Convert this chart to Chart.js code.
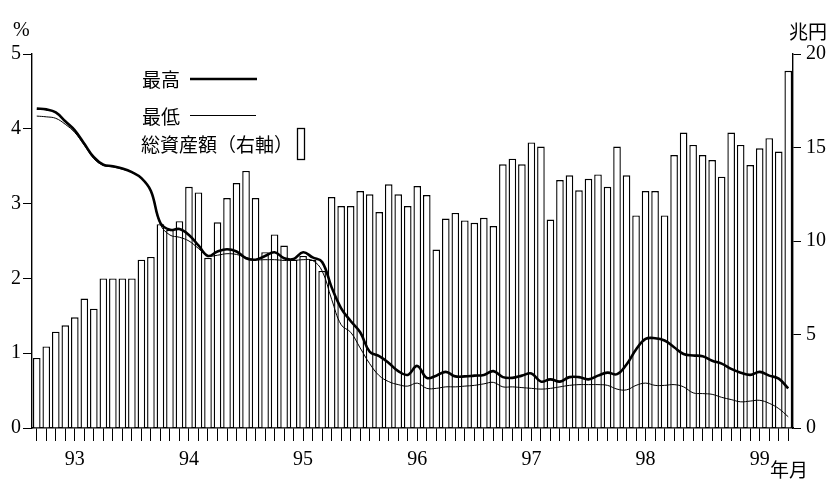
<!DOCTYPE html>
<html>
<head>
<meta charset="utf-8">
<script src="https://cdn.jsdelivr.net/npm/chart.js@4.4.0/dist/chart.umd.min.js"></script>
<style>
  html, body { margin: 0; padding: 0; background: #fff; }
  #wrap { width: 828px; height: 482px; }
</style>
</head>
<body>
<div id="wrap"><canvas id="chart" width="828" height="482"></canvas></div>
<script>
// 月次カテゴリ: 1992年9月 〜 1999年4月 (80か月)
const months = [];
for (let y = 1992, m = 9; months.length < 80; m++) {
    if (m > 12) { m = 1; y++; }
    months.push(y + '/' + m);
}

// 1月にだけ出す年ラベル
const yearLabels = { '1993/1': '93', '1994/1': '94', '1995/1': '95', '1996/1': '96', '1997/1': '97', '1998/1': '98', '1999/1': '99' };

// 総資産額 (兆円, 右軸)
const totalAssets = [
    3.75, 4.36, 5.15, 5.49, 5.92, 6.92, 6.38, 8.0, 8.0, 8.0,
    8.0, 9.0, 9.15, 10.9, 10.6, 11.06, 12.9, 12.6, 9.1, 11.0,
    12.3, 13.1, 13.75, 12.3, 9.4, 10.35, 9.76, 9.0, 9.2, 9.0,
    8.4, 12.35, 11.87, 11.87, 12.67, 12.5, 11.55, 13.03, 12.5, 11.87,
    12.94, 12.46, 9.54, 11.2, 11.5, 11.1, 10.97, 11.24, 10.8, 14.1,
    14.4, 14.1, 15.27, 15.05, 11.15, 13.26, 13.51, 12.71, 13.33, 13.56,
    12.9, 15.05, 13.51, 11.37, 12.67, 12.67, 11.37, 14.6, 15.8, 15.14,
    14.6, 14.33, 13.44, 15.8, 15.14, 14.06, 14.96, 15.5, 14.78, 19.1
];

// 利回り 最高 (%)
const rateHigh = [
    4.27, 4.26, 4.22, 4.10, 3.98, 3.80, 3.62, 3.52, 3.50, 3.47,
    3.42, 3.34, 3.17, 2.74, 2.65, 2.66, 2.58, 2.44, 2.30, 2.36,
    2.39, 2.36, 2.27, 2.25, 2.30, 2.35, 2.27, 2.26, 2.35, 2.28,
    2.22, 1.88, 1.60, 1.43, 1.28, 1.02, 0.96, 0.87, 0.76, 0.71,
    0.83, 0.67, 0.70, 0.75, 0.69, 0.69, 0.70, 0.71, 0.76, 0.68,
    0.67, 0.70, 0.73, 0.62, 0.65, 0.62, 0.68, 0.68, 0.65, 0.70,
    0.74, 0.72, 0.85, 1.05, 1.19, 1.20, 1.17, 1.08, 0.99, 0.97,
    0.96, 0.90, 0.86, 0.79, 0.74, 0.71, 0.75, 0.70, 0.66, 0.53
];

// 利回り 最低 (%)
const rateLow = [
    4.17, 4.16, 4.14, 4.06, 3.95, 3.78, 3.60, 3.51, 3.49, 3.46,
    3.42, 3.34, 3.17, 2.72, 2.58, 2.55, 2.50, 2.40, 2.30, 2.31,
    2.33, 2.32, 2.28, 2.25, 2.25, 2.25, 2.24, 2.24, 2.25, 2.24,
    2.10, 1.72, 1.38, 1.28, 1.07, 0.86, 0.70, 0.62, 0.58, 0.56,
    0.60, 0.53, 0.53, 0.55, 0.55, 0.56, 0.57, 0.59, 0.61, 0.55,
    0.55, 0.54, 0.53, 0.52, 0.53, 0.55, 0.57, 0.58, 0.58, 0.58,
    0.57, 0.52, 0.51, 0.57, 0.60, 0.57, 0.57, 0.58, 0.55, 0.47,
    0.46, 0.45, 0.41, 0.38, 0.35, 0.36, 0.37, 0.33, 0.26, 0.15
];

const NUM_FONT = { family: '"Liberation Serif", serif', size: 20 };
const JP_FONT = '19px "Noto Sans CJK JP", sans-serif';

// 凡例・単位の文字 (図の中に直接描く)
const annotations = {
    id: 'annotations',
    afterDraw(chart) {
        const c = chart.ctx;
        c.save();
        c.fillStyle = '#000';
        c.strokeStyle = '#000';
        c.font = JP_FONT;
        c.textBaseline = 'middle';
        c.textAlign = 'left';

        c.fillText('最高', 142, 80);
        c.lineWidth = 2.6;
        c.beginPath(); c.moveTo(190, 79); c.lineTo(257, 79); c.stroke();

        c.fillText('最低', 142, 117);
        c.lineWidth = 1;
        c.beginPath(); c.moveTo(190, 115.5); c.lineTo(256, 115.5); c.stroke();

        c.fillText('総資産額（右軸）', 141, 145);
        c.fillStyle = '#fff';
        c.fillRect(297.5, 128.5, 7, 31);
        c.lineWidth = 1.3;
        c.strokeRect(297.5, 128.5, 7, 31);

        c.fillStyle = '#000';
        c.font = '20px "Liberation Serif", serif';
        c.fillText('%', 13, 31);
        c.font = JP_FONT;
        c.fillText('兆円', 789, 32);
        c.fillText('年月', 770, 470);
        c.restore();
    }
};

new Chart(document.getElementById('chart'), {
    type: 'bar',
    data: {
        labels: months,
        datasets: [
            {
                type: 'line', label: '最高', data: rateHigh, yAxisID: 'y',
                borderColor: '#000', borderWidth: 2.6, pointRadius: 0, tension: 0.4, order: 0
            },
            {
                type: 'line', label: '最低', data: rateLow, yAxisID: 'y',
                borderColor: '#000', borderWidth: 1, pointRadius: 0, tension: 0.4, order: 1
            },
            {
                type: 'bar', label: '総資産額（右軸）', data: totalAssets, yAxisID: 'y2',
                backgroundColor: '#fff', borderColor: '#000', borderWidth: 1.4,
                barPercentage: 0.8, categoryPercentage: 1.0, order: 2
            }
        ]
    },
    options: {
        responsive: false,
        animation: false,
        layout: { padding: { top: 54, left: 0, right: 0, bottom: 0 } },
        plugins: { legend: { display: false }, tooltip: { enabled: false } },
        scales: {
            x: {
                offset: true,
                grid: { drawOnChartArea: false, offset: false, tickLength: 13, color: '#000', lineWidth: 1 },
                border: { color: '#000', width: 1.4 },
                ticks: {
                    autoSkip: false, maxRotation: 0, padding: 7, color: '#000', font: NUM_FONT,
                    callback: (v, i) => yearLabels[months[i]] || ''
                },
                afterFit: s => { s.height = 54; }
            },
            y: {
                position: 'left', min: 0, max: 5,
                grid: { drawOnChartArea: false, tickLength: 9, color: '#000' },
                border: { color: '#000', width: 1.4 },
                ticks: { stepSize: 1, padding: 2, color: '#000', font: NUM_FONT },
                afterFit: s => { s.width = 32; }
            },
            y2: {
                position: 'right', min: 0, max: 20,
                grid: { drawOnChartArea: false, tickLength: 8, color: '#000' },
                border: { color: '#000', width: 1.4 },
                ticks: { stepSize: 5, padding: 5, color: '#000', font: NUM_FONT },
                afterFit: s => { s.width = 35; }
            }
        }
    },
    plugins: [annotations]
});
</script>
</body>
</html>
